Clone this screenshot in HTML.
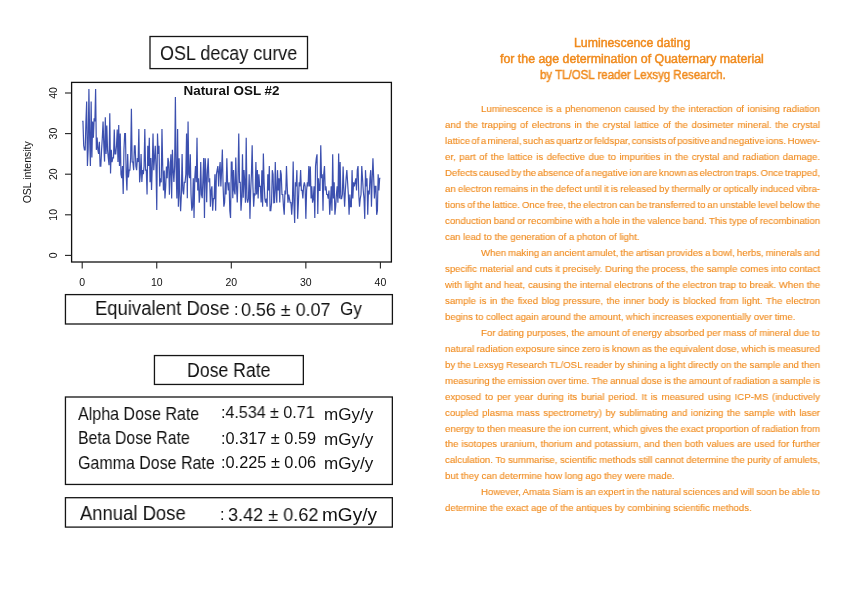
<!DOCTYPE html><html><head><meta charset="utf-8"><style>
html,body{margin:0;padding:0;background:#fff;}
body{width:842px;height:595px;position:relative;overflow:hidden;font-family:"Liberation Sans", sans-serif;}
.t{position:absolute;white-space:pre;line-height:1;transform-origin:0 0;}
.k{color:#111;}
body{-webkit-font-smoothing:antialiased;}
.t{will-change:transform;}
.o{color:#f08a1c;-webkit-text-stroke:0.12px #f08a1c;}
</style></head><body>
<div class="t k" style="left:160.41px;top:43.76px;font-size:19.3px;transform:scaleX(0.9323)">OSL decay curve</div>
<div class="t k" style="left:95.05px;top:298.56px;font-size:19.3px;transform:scaleX(0.9581)">Equivalent Dose</div>
<div class="t k" style="left:233.95px;top:300.53px;font-size:16.3px;transform:scaleX(1.0)">:</div>
<div class="t k" style="left:241.13px;top:301.41px;font-size:18.6px;transform:scaleX(0.963)">0.56 ± 0.07</div>
<div class="t k" style="left:339.66px;top:299.57px;font-size:18.6px;transform:scaleX(0.9191)">Gy</div>
<div class="t k" style="left:187.00px;top:360.96px;font-size:19.3px;transform:scaleX(0.9172)">Dose Rate</div>
<div class="t k" style="left:78.05px;top:406.01px;font-size:17.75px;transform:scaleX(0.9034)">Alpha Dose Rate</div>
<div class="t k" style="left:77.93px;top:430.27px;font-size:17.75px;transform:scaleX(0.8913)">Beta Dose Rate</div>
<div class="t k" style="left:77.54px;top:454.70px;font-size:17.75px;transform:scaleX(0.9003)">Gamma Dose Rate</div>
<div class="t k" style="left:221.14px;top:404.31px;font-size:16.3px;transform:scaleX(0.9852)">:4.534 ± 0.71</div>
<div class="t k" style="left:221.06px;top:429.54px;font-size:16.3px;transform:scaleX(1.0017)">:0.317 ± 0.59</div>
<div class="t k" style="left:221.09px;top:454.14px;font-size:16.3px;transform:scaleX(1.0019)">:0.225 ± 0.06</div>
<div class="t k" style="left:323.73px;top:405.63px;font-size:16.3px;transform:scaleX(1.0464)">mGy/y</div>
<div class="t k" style="left:323.73px;top:430.63px;font-size:16.3px;transform:scaleX(1.0464)">mGy/y</div>
<div class="t k" style="left:323.73px;top:455.43px;font-size:16.3px;transform:scaleX(1.0464)">mGy/y</div>
<div class="t k" style="left:80.45px;top:503.99px;font-size:19.3px;transform:scaleX(0.9571)">Annual Dose</div>
<div class="t k" style="left:219.58px;top:506.17px;font-size:16.3px;transform:scaleX(1.0)">:</div>
<div class="t k" style="left:228.44px;top:505.57px;font-size:18.6px;transform:scaleX(0.9732)">3.42 ± 0.62</div>
<div class="t k" style="left:321.66px;top:505.80px;font-size:18.6px;transform:scaleX(1.0225)">mGy/y</div>
<div class="t o" style="left:574.49px;top:37.32px;font-size:12.3px;-webkit-text-stroke:0.45px #f08a1c;transform:scaleX(0.9974637411152989)">Luminescence dating</div>
<div class="t o" style="left:500.31px;top:52.86px;font-size:12.3px;-webkit-text-stroke:0.45px #f08a1c;transform:scaleX(1.004934917958561)">for the age determination of Quaternary material</div>
<div class="t o" style="left:540.03px;top:69.35px;font-size:12.3px;-webkit-text-stroke:0.45px #f08a1c;transform:scaleX(0.9336926952767207)">by TL/OSL reader Lexsyg Research.</div>
<div class="t o" style="left:481.02px;top:104.10px;font-size:9.8px;word-spacing:0.684px;transform:scaleX(0.9775)">Luminescence is a phenomenon caused by the interaction of ionising radiation</div>
<div class="t o" style="left:444.92px;top:120.07px;font-size:9.8px;word-spacing:1.108px;transform:scaleX(0.9775)">and the trapping of electrons in the crystal lattice of the dosimeter mineral. the crystal</div>
<div class="t o" style="left:444.92px;top:136.04px;font-size:9.8px;word-spacing:-1.289px;transform:scaleX(0.9775)">lattice of a mineral, such as quartz or feldspar, consists of positive and negative ions. Howev-</div>
<div class="t o" style="left:444.92px;top:152.01px;font-size:9.8px;word-spacing:0.888px;transform:scaleX(0.9775)">er, part of the lattice is defective due to impurities in the crystal and radiation damage.</div>
<div class="t o" style="left:444.92px;top:167.98px;font-size:9.8px;word-spacing:-1.219px;transform:scaleX(0.9775)">Defects caused by the absence of a negative ion are known as electron traps. Once trapped,</div>
<div class="t o" style="left:444.92px;top:183.95px;font-size:9.8px;word-spacing:-0.417px;transform:scaleX(0.9775)">an electron remains in the defect until it is released by thermally or optically induced vibra-</div>
<div class="t o" style="left:444.92px;top:199.92px;font-size:9.8px;word-spacing:-0.735px;transform:scaleX(0.9775)">tions of the lattice. Once free, the electron can be transferred to an unstable level below the</div>
<div class="t o" style="left:444.92px;top:215.89px;font-size:9.8px;word-spacing:-0.399px;transform:scaleX(0.9775)">conduction band or recombine with a hole in the valence band. This type of recombination</div>
<div class="t o" style="left:444.92px;top:231.86px;font-size:9.8px;word-spacing:0.000px;transform:scaleX(0.975545)">can lead to the generation of a photon of light.</div>
<div class="t o" style="left:481.02px;top:247.83px;font-size:9.8px;word-spacing:-0.560px;transform:scaleX(0.9775)">When making an ancient amulet, the artisan provides a bowl, herbs, minerals and</div>
<div class="t o" style="left:444.92px;top:263.80px;font-size:9.8px;word-spacing:-0.005px;transform:scaleX(0.9775)">specific material and cuts it precisely. During the process, the sample comes into contact</div>
<div class="t o" style="left:444.92px;top:279.77px;font-size:9.8px;word-spacing:0.124px;transform:scaleX(0.9775)">with light and heat, causing the internal electrons of the electron trap to break. When the</div>
<div class="t o" style="left:444.92px;top:295.74px;font-size:9.8px;word-spacing:0.900px;transform:scaleX(0.9775)">sample is in the fixed blog pressure, the inner body is blocked from light. The electron</div>
<div class="t o" style="left:444.93px;top:311.71px;font-size:9.8px;word-spacing:0.000px;transform:scaleX(0.96577)">begins to collect again around the amount, which increases exponentially over time.</div>
<div class="t o" style="left:481.02px;top:327.68px;font-size:9.8px;word-spacing:-0.058px;transform:scaleX(0.9775)">For dating purposes, the amount of energy absorbed per mass of mineral due to</div>
<div class="t o" style="left:444.92px;top:343.65px;font-size:9.8px;word-spacing:-0.401px;transform:scaleX(0.9775)">natural radiation exposure since zero is known as the equivalent dose, which is measured</div>
<div class="t o" style="left:444.92px;top:359.62px;font-size:9.8px;word-spacing:-0.203px;transform:scaleX(0.9775)">by the Lexsyg Research TL/OSL reader by shining a light directly on the sample and then</div>
<div class="t o" style="left:444.92px;top:375.59px;font-size:9.8px;word-spacing:-0.407px;transform:scaleX(0.9775)">measuring the emission over time. The annual dose is the amount of radiation a sample is</div>
<div class="t o" style="left:444.92px;top:391.56px;font-size:9.8px;word-spacing:1.236px;transform:scaleX(0.9775)">exposed to per year during its burial period. It is measured using ICP-MS (inductively</div>
<div class="t o" style="left:444.92px;top:407.53px;font-size:9.8px;word-spacing:1.015px;transform:scaleX(0.9775)">coupled plasma mass spectrometry) by sublimating and ionizing the sample with laser</div>
<div class="t o" style="left:444.92px;top:423.50px;font-size:9.8px;word-spacing:-0.293px;transform:scaleX(0.9775)">energy to then measure the ion current, which gives the exact proportion of radiation from</div>
<div class="t o" style="left:444.92px;top:439.47px;font-size:9.8px;word-spacing:0.437px;transform:scaleX(0.9775)">the isotopes uranium, thorium and potassium, and then both values are used for further</div>
<div class="t o" style="left:444.92px;top:455.44px;font-size:9.8px;word-spacing:-0.106px;transform:scaleX(0.9775)">calculation. To summarise, scientific methods still cannot determine the purity of amulets,</div>
<div class="t o" style="left:444.92px;top:471.41px;font-size:9.8px;word-spacing:0.000px;transform:scaleX(0.973199)">but they can determine how long ago they were made.</div>
<div class="t o" style="left:481.02px;top:487.38px;font-size:9.8px;word-spacing:-0.557px;transform:scaleX(0.9775)">However, Amata Siam is an expert in the natural sciences and will soon be able to</div>
<div class="t o" style="left:444.92px;top:503.35px;font-size:9.8px;word-spacing:0.000px;transform:scaleX(0.9706575000000001)">determine the exact age of the antiques by combining scientific methods.</div>
<svg style="position:absolute;left:0;top:0" width="842" height="595" viewBox="0 0 842 595">
<rect x="150.0" y="36.5" width="157.50" height="32.10" fill="none" stroke="#151515" stroke-width="1.3"/>
<rect x="65.45" y="294.6" width="326.95" height="29.40" fill="none" stroke="#151515" stroke-width="1.3"/>
<rect x="154.45" y="355.55" width="148.90" height="28.90" fill="none" stroke="#151515" stroke-width="1.3"/>
<rect x="65.45" y="397.0" width="326.90" height="87.45" fill="none" stroke="#151515" stroke-width="1.3"/>
<rect x="65.45" y="497.7" width="326.90" height="29.40" fill="none" stroke="#151515" stroke-width="1.3"/>
<rect x="71.6" y="82.4" width="319.8" height="179.6" fill="none" stroke="#111" stroke-width="1.3"/>
<line x1="65" y1="255.40" x2="71.6" y2="255.40" stroke="#222" stroke-width="1.1"/>
<text transform="translate(56.6 255.40) rotate(-90)" text-anchor="middle" font-family="Liberation Sans" font-size="10.5" fill="#111">0</text>
<line x1="65" y1="214.80" x2="71.6" y2="214.80" stroke="#222" stroke-width="1.1"/>
<text transform="translate(56.6 214.80) rotate(-90)" text-anchor="middle" font-family="Liberation Sans" font-size="10.5" fill="#111">10</text>
<line x1="65" y1="174.20" x2="71.6" y2="174.20" stroke="#222" stroke-width="1.1"/>
<text transform="translate(56.6 174.20) rotate(-90)" text-anchor="middle" font-family="Liberation Sans" font-size="10.5" fill="#111">20</text>
<line x1="65" y1="133.60" x2="71.6" y2="133.60" stroke="#222" stroke-width="1.1"/>
<text transform="translate(56.6 133.60) rotate(-90)" text-anchor="middle" font-family="Liberation Sans" font-size="10.5" fill="#111">30</text>
<line x1="65" y1="93.00" x2="71.6" y2="93.00" stroke="#222" stroke-width="1.1"/>
<text transform="translate(56.6 93.00) rotate(-90)" text-anchor="middle" font-family="Liberation Sans" font-size="10.5" fill="#111">40</text>
<line x1="82.20" y1="262" x2="82.20" y2="268.6" stroke="#222" stroke-width="1.1"/>
<text x="82.20" y="285.6" text-anchor="middle" font-family="Liberation Sans" font-size="10.5" fill="#111">0</text>
<line x1="156.75" y1="262" x2="156.75" y2="268.6" stroke="#222" stroke-width="1.1"/>
<text x="156.75" y="285.6" text-anchor="middle" font-family="Liberation Sans" font-size="10.5" fill="#111">10</text>
<line x1="231.30" y1="262" x2="231.30" y2="268.6" stroke="#222" stroke-width="1.1"/>
<text x="231.30" y="285.6" text-anchor="middle" font-family="Liberation Sans" font-size="10.5" fill="#111">20</text>
<line x1="305.85" y1="262" x2="305.85" y2="268.6" stroke="#222" stroke-width="1.1"/>
<text x="305.85" y="285.6" text-anchor="middle" font-family="Liberation Sans" font-size="10.5" fill="#111">30</text>
<line x1="380.40" y1="262" x2="380.40" y2="268.6" stroke="#222" stroke-width="1.1"/>
<text x="380.40" y="285.6" text-anchor="middle" font-family="Liberation Sans" font-size="10.5" fill="#111">40</text>
<text transform="translate(31.2 172.3) rotate(-90)" text-anchor="middle" font-family="Liberation Sans" font-size="10.5" fill="#111">OSL intensity</text>
<text x="231.5" y="95.1" text-anchor="middle" font-family="Liberation Sans" font-weight="bold" font-size="13.45" fill="#111">Natural OSL #2</text>
<polyline points="82.20,121.42 82.95,121.42 83.69,145.37 84.44,149.84 85.18,149.84 85.93,121.42 86.67,101.53 87.42,166.08 88.16,149.43 88.91,88.94 89.66,137.66 90.40,166.08 91.15,101.53 91.89,157.55 92.64,121.42 93.38,137.66 94.13,118.17 94.87,121.42 95.62,88.94 96.36,149.84 97.11,137.66 97.86,149.84 98.60,153.90 99.35,141.72 100.09,166.08 100.84,166.08 101.58,149.84 102.33,137.66 103.07,121.42 103.82,145.78 104.56,161.61 105.31,117.36 106.06,153.90 106.80,125.48 107.55,149.84 108.29,157.96 109.04,165.27 109.78,113.30 110.53,173.39 111.27,149.84 112.02,162.02 112.77,157.96 113.51,157.96 114.26,129.54 115.00,153.90 115.75,153.90 116.49,145.78 117.24,129.54 117.98,162.02 118.73,125.07 119.47,166.08 120.22,133.60 120.97,174.20 121.71,178.26 122.46,166.08 123.20,194.09 123.95,149.84 124.69,133.60 125.44,133.60 126.18,174.20 126.93,190.44 127.68,153.90 128.42,177.45 129.17,170.14 129.91,170.14 130.66,157.96 131.40,108.83 132.15,162.02 132.89,162.02 133.64,170.14 134.38,145.78 135.13,145.78 135.88,166.08 136.62,170.14 137.37,157.96 138.11,162.02 138.86,129.13 139.60,182.32 140.35,174.20 141.09,153.90 141.84,181.91 142.59,170.14 143.33,174.20 144.08,166.08 144.82,129.13 145.57,170.14 146.31,170.14 147.06,194.50 147.80,145.78 148.55,166.08 149.30,137.66 150.04,182.32 150.79,157.96 151.53,190.03 152.28,166.08 153.02,133.60 153.77,170.14 154.51,157.96 155.26,145.78 156.00,166.08 156.75,209.93 157.50,133.60 158.24,153.90 158.99,145.78 159.73,186.38 160.48,178.26 161.22,182.32 161.97,129.13 162.71,166.08 163.46,190.44 164.20,170.55 164.95,198.56 165.70,186.38 166.44,166.49 167.19,178.26 167.93,157.96 168.68,162.02 169.42,194.70 170.17,170.14 170.91,154.31 171.66,198.56 172.41,149.84 173.15,170.14 173.90,181.91 174.64,166.08 175.39,97.06 176.13,170.14 176.88,198.56 177.62,129.13 178.37,206.68 179.12,158.37 179.86,194.50 180.61,211.15 181.35,194.50 182.10,153.90 182.84,190.44 183.59,194.50 184.33,182.32 185.08,182.32 185.82,174.20 186.57,133.60 187.32,198.15 188.06,121.42 188.81,174.20 189.55,178.26 190.30,154.31 191.04,194.50 191.79,210.74 192.53,206.68 193.28,178.26 194.03,218.05 194.77,178.26 195.52,166.08 196.26,182.32 197.01,137.66 197.75,190.44 198.50,178.26 199.24,202.62 199.99,194.50 200.73,162.02 201.48,194.50 202.23,198.15 202.97,178.26 203.72,157.96 204.46,218.05 205.21,158.37 205.95,174.20 206.70,202.21 207.44,170.14 208.19,158.37 208.94,182.32 209.68,178.26 210.43,206.68 211.17,190.44 211.92,186.38 212.66,210.74 213.41,198.56 214.15,198.56 214.90,174.20 215.64,210.74 216.39,174.20 217.14,170.14 217.88,166.08 218.63,186.38 219.37,170.14 220.12,162.02 220.86,186.38 221.61,170.14 222.35,149.43 223.10,186.38 223.85,206.68 224.59,202.62 225.34,182.32 226.08,194.50 226.83,158.37 227.57,182.32 228.32,190.44 229.06,182.32 229.81,210.74 230.55,218.05 231.30,162.02 232.05,162.02 232.79,198.15 233.54,170.14 234.28,190.44 235.03,194.50 235.77,157.55 236.52,186.38 237.26,202.42 238.01,178.26 238.75,133.60 239.50,182.32 240.25,182.32 240.99,210.74 241.74,198.56 242.48,154.31 243.23,197.75 243.97,170.14 244.72,182.32 245.46,202.62 246.21,137.66 246.96,198.56 247.70,202.62 248.45,198.56 249.19,174.20 249.94,218.86 250.68,190.44 251.43,174.20 252.17,145.37 252.92,186.38 253.67,206.68 254.41,194.09 255.16,194.50 255.90,162.02 256.65,194.50 257.39,170.14 258.14,198.56 258.88,174.20 259.63,186.38 260.37,186.38 261.12,202.42 261.87,170.14 262.61,206.68 263.36,153.49 264.10,182.32 264.85,198.56 265.59,202.62 266.34,198.56 267.08,206.68 267.83,174.20 268.57,190.44 269.32,166.08 270.07,210.74 270.81,210.74 271.56,202.62 272.30,170.14 273.05,174.20 273.79,202.62 274.54,202.42 275.28,162.02 276.03,190.44 276.78,202.62 277.52,170.14 278.27,190.44 279.01,178.26 279.76,202.42 280.50,170.14 281.25,174.20 281.99,194.50 282.74,194.50 283.49,206.68 284.23,214.80 284.98,190.44 285.72,194.50 286.47,166.08 287.21,186.38 287.96,202.62 288.70,194.50 289.45,198.56 290.19,202.62 290.94,202.62 291.69,214.80 292.43,202.62 293.18,161.61 293.92,202.62 294.67,222.92 295.41,182.32 296.16,186.38 296.90,170.14 297.65,218.86 298.39,202.62 299.14,182.32 299.89,186.38 300.63,170.14 301.38,190.44 302.12,190.44 302.87,198.56 303.61,186.38 304.36,182.32 305.10,186.38 305.85,218.86 306.60,190.44 307.34,182.32 308.09,186.38 308.83,166.08 309.58,186.38 310.32,166.49 311.07,198.56 311.81,186.38 312.56,202.62 313.31,198.56 314.05,186.38 314.80,218.05 315.54,166.08 316.29,158.37 317.03,154.31 317.78,213.99 318.52,178.26 319.27,190.44 320.01,190.44 320.76,145.37 321.51,178.26 322.25,174.20 323.00,210.74 323.74,174.20 324.49,166.08 325.23,190.44 325.98,186.38 326.72,194.50 327.47,194.50 328.22,198.56 328.96,190.44 329.71,214.80 330.45,202.62 331.20,186.38 331.94,210.74 332.69,154.31 333.43,198.56 334.18,182.32 334.92,214.80 335.67,206.68 336.42,194.50 337.16,186.38 337.91,202.62 338.65,153.49 339.40,198.56 340.14,162.02 340.89,198.56 341.63,198.56 342.38,194.50 343.12,166.49 343.87,190.44 344.62,206.68 345.36,190.44 346.11,178.26 346.85,170.14 347.60,182.32 348.34,194.50 349.09,214.80 349.83,194.50 350.58,206.68 351.33,206.68 352.07,170.14 352.82,198.56 353.56,182.32 354.31,186.38 355.05,182.32 355.80,178.26 356.54,190.44 357.29,170.14 358.03,166.08 358.78,194.50 359.53,206.68 360.27,198.56 361.02,194.50 361.76,166.08 362.51,178.26 363.25,190.44 364.00,198.56 364.74,218.86 365.49,170.14 366.24,186.38 366.98,178.26 367.73,214.80 368.47,190.44 369.22,194.50 369.96,178.26 370.71,170.14 371.45,206.68 372.20,178.26 372.94,158.37 373.69,178.26 374.44,198.56 375.18,186.38 375.93,186.38 376.67,214.80 377.42,210.74 378.16,174.20 378.91,190.44 379.65,178.26 380.40,178.26" fill="none" stroke="#3c50af" stroke-width="1.2" stroke-linejoin="miter" stroke-miterlimit="2"/>
</svg>
</body></html>
